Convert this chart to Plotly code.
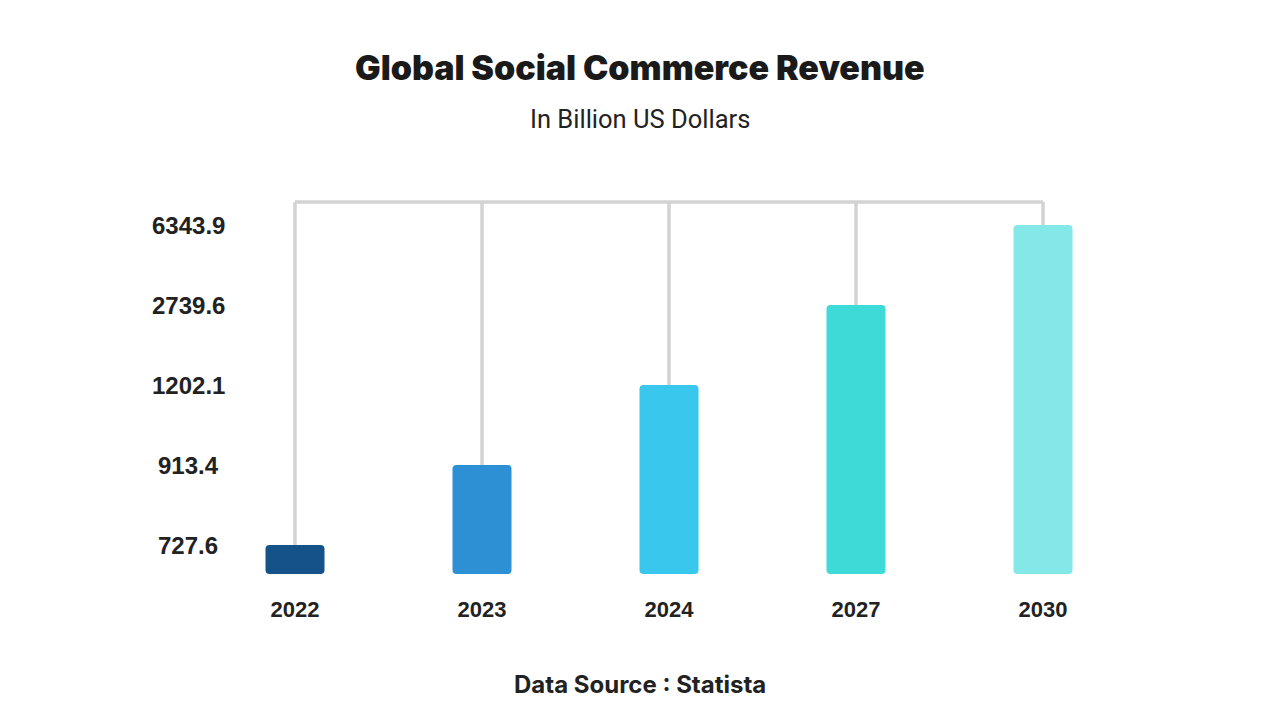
import plotly.graph_objects as go

years = ["2022", "2023", "2024", "2027", "2030"]
revenue = [727.6, 913.4, 1202.1, 2739.6, 6343.9]
revenue_labels = ["727.6", "913.4", "1202.1", "2739.6", "6343.9"]
colors = ["#15528a", "#2d90d5", "#3ac7ee", "#3ddad8", "#84e8e8"]

# bars are drawn at evenly spaced rank levels (infographic style)
ranks = [sorted(revenue).index(v) + 1 for v in revenue]
base_level = 0.6375
connector_level = 5.2875

# connector lines
lx, ly = [], []
for yr, r in zip(years, ranks):
    lx += [yr, yr, None]
    ly += [r, connector_level, None]
lx += [years[0], years[-1]]
ly += [connector_level, connector_level]

# page offset (body margin) compensation
OFF = 8
W, H = 1280, 720
pl, pr, pt, pb = 235 - OFF, 180 + OFF, 197 - OFF, 146 + OFF
pw, ph = W - pl - pr, H - pt - pb

def px_to_paper(x, y):
    return (x - OFF - pl) / pw, (H - pb - (y - OFF)) / ph

fig = go.Figure()
fig.add_trace(go.Scatter(x=lx, y=ly, mode="lines",
                         line=dict(color="#d3d3d3", width=3.5),
                         hoverinfo="skip", showlegend=False))
fig.add_trace(go.Bar(x=years, y=[r - base_level for r in ranks], base=base_level,
                     marker=dict(color=colors, line=dict(width=0), cornerradius=4),
                     width=59 / 187, customdata=revenue,
                     hovertemplate="%{x}: %{customdata}<extra></extra>",
                     showlegend=False))

tx, ty = px_to_paper(640, 68)
sx, sy = px_to_paper(640, 119)
dx, dy = px_to_paper(640, 684)
lab_x, _ = px_to_paper(188, 0)

annotations = [
    dict(text="Global Social Commerce Revenue", xref="paper", yref="paper", x=tx, y=ty,
         xanchor="center", yanchor="middle", showarrow=False,
         font=dict(family="Inter", size=34, weight=900, color="#1a1a1a")),
    dict(text="In Billion US Dollars", xref="paper", yref="paper", x=sx, y=sy,
         xanchor="center", yanchor="middle", showarrow=False,
         font=dict(family="Roboto", size=25.5, color="#222222")),
    dict(text="Data Source : Statista", xref="paper", yref="paper", x=dx, y=dy,
         xanchor="center", yanchor="middle", showarrow=False,
         font=dict(family="Inter", size=24, weight="bold", color="#222222")),
]
# value labels, centred, at each rank level on the y axis
for r, lab in zip(ranks, revenue_labels):
    annotations.append(dict(text=lab, xref="paper", yref="y", x=lab_x, y=r,
                            xanchor="center", yanchor="middle", showarrow=False,
                            font=dict(family="Liberation Sans", size=24, weight="bold",
                                      color="#222222")))

fig.update_layout(
    width=W, height=H,
    paper_bgcolor="white", plot_bgcolor="white",
    margin=dict(l=pl, r=pr, t=pt, b=pb),
    xaxis=dict(type="category", range=[-60 / 187, 805 / 187], showgrid=False,
               zeroline=False, showline=False, ticks="",
               tickfont=dict(family="Liberation Sans", size=22, weight="bold", color="#222222"),
               ticklabelstandoff=20),
    yaxis=dict(range=[base_level, 5.35], showgrid=False, zeroline=False, showline=False,
               tickvals=[1, 2, 3, 4, 5], showticklabels=False, ticks=""),
    annotations=annotations,
)

fig.write_html("out.html")
